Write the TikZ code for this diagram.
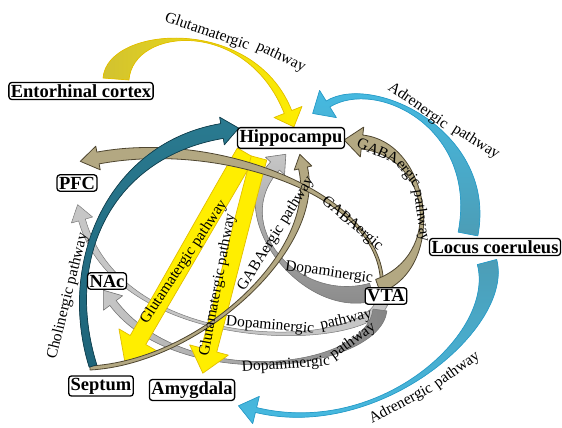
\documentclass[tikz,border=0pt]{standalone}
\usepackage{fontspec}
\setmainfont{Liberation Serif}[BoldFont={Liberation Serif Bold}]
\usetikzlibrary{calc}
\pgfdeclarelayer{bg}
\pgfsetlayers{bg,main}
\definecolor{ylw}{HTML}{FFEE00}
\definecolor{ylwd}{HTML}{E2BE00}
\definecolor{ylwo}{HTML}{D2C230}
\definecolor{cyn}{HTML}{45BDE6}
\definecolor{cyno}{HTML}{4C9DB6}
\definecolor{cynd}{HTML}{2A9CC8}
\definecolor{teal1}{HTML}{1E6479}
\definecolor{teal2}{HTML}{2A7A90}
\definecolor{teald}{HTML}{123F4D}
\definecolor{tan1}{HTML}{B3A882}
\definecolor{tand}{HTML}{4F4630}
\definecolor{gry}{HTML}{A2A2A2}
\definecolor{gryk}{HTML}{858585}
\definecolor{gryl}{HTML}{C6C6C6}
\definecolor{gryd}{HTML}{7A7A7A}
\newcommand\boxfont{\bfseries\fontsize{18.5}{18.5}\selectfont}
\newcommand\lblfont{\fontsize{15.5}{16}\selectfont}
% style, P0, P1, P2, P3 (head base), half width start, half width end, head half width, head length
\newcommand\fatarrow[9]{%
  \filldraw[#1]
    ($(#2)!#6!90:(#3)$) .. controls ($(#3)!#6!-90:(#2)$) and ($(#4)!#7!90:(#5)$) .. ($(#5)!#7!-90:(#4)$)
    -- ($(#5)!#8!-90:(#4)$) -- ($(#5)!-#9!(#4)$) -- ($(#5)!#8!90:(#4)$)
    -- ($(#5)!#7!90:(#4)$) .. controls ($(#4)!#7!-90:(#5)$) and ($(#3)!#6!90:(#2)$) .. ($(#2)!#6!-90:(#3)$) -- cycle;}
\begin{document}
\begin{tikzpicture}[x=1pt,y=-1pt,
  box/.style={draw=black, fill=white, rounded corners=3pt, line width=1.3pt, inner sep=2pt, font=\boxfont},
  lbl/.style={font=\lblfont, inner sep=0pt},
  ylwA/.style={fill=ylw, draw=ylwd, line width=0.7pt, line join=round},
  cynA/.style={fill=cyn, draw=cynd, line width=0.7pt, line join=round},
  tealA/.style={fill=teal1, draw=teald, line width=0.7pt, line join=round},
  tanA/.style={fill=tan1, draw=tand, line width=0.8pt, line join=round},
  gryA/.style={fill=gry, draw=gryd, line width=0.6pt, line join=round},
  grylA/.style={fill=gryl, draw=gryd, line width=0.5pt, line join=round}]
\useasboundingbox (0,0) rectangle (562,428);
% boxes
\node[box] (ec) at (81,91) {Entorhinal cortex};
\node[box] (hip) at (291,138) {Hippocampu};
\node[box] (pfc) at (77,183) {PFC};
\node[box] (nac) at (107,281) {NAc};
\node[box] (sep) at (101,386) {Septum};
\node[box] (amy) at (192,390) {Amygdala};
\node[box] (lc) at (495,247) {Locus coeruleus};
\node[box] (vta) at (386,296) {VTA};
% end points
\coordinate (A0) at ($(ec)+(35,-12)$);  \coordinate (A3) at ($(hip)+(-3,-26)$);
\coordinate (B0) at ($(lc)+(-27,-13)$); \coordinate (B3) at ($(hip)+(37,-34)$);
\coordinate (C0) at ($(lc)+(-8,15)$);   \coordinate (C3) at ($(amy)+(64,20)$);
\coordinate (D0) at ($(sep)+(-8,-20)$); \coordinate (D3) at ($(hip)+(-69,-7)$);
\coordinate (E0) at ($(sep)+(-11,-18)$);\coordinate (E3) at ($(hip)+(12,30)$);
\coordinate (F0) at ($(vta)+(-4,-9)$);  \coordinate (F3) at ($(pfc)+(21,-25)$);
\coordinate (G0) at ($(vta)+(-8,-10)$); \coordinate (G3) at ($(hip)+(71,4)$);
\coordinate (H0) at ($(vta)+(-14,-4)$); \coordinate (H3) at ($(hip)+(-16,28)$);
\coordinate (I0) at ($(vta)+(-4,7)$);   \coordinate (I3) at ($(pfc)+(5,37)$);
\coordinate (J0) at ($(vta)+(-6,14)$);  \coordinate (J3) at ($(nac)+(6,22)$);
\coordinate (K0) at ($(hip)+(-45,15)$); \coordinate (K3) at ($(sep)+(37,-46)$);
\coordinate (L0) at ($(hip)+(-32,20)$); \coordinate (L3) at ($(amy)+(17,-40)$);
\begin{pgfonlayer}{bg}
\fill[white] (0,0) rectangle (562,428);
% dopaminergic
\fatarrow{grylA}{I0}{362,352}{120,355}{I3}{6pt}{3.5pt}{11pt}{16pt}
\fatarrow{gryA, left color=gryl, right color=gryk}{J0}{372,372}{180,392}{J3}{7pt}{4pt}{12pt}{16pt}
\fatarrow{gryA, top color=gryl, bottom color=gryk}{H0}{300,312}{225,220}{H3}{9pt}{6pt}{13pt}{16pt}
% glutamatergic straight
\fatarrow{ylwA}{K0}{210,215}{174,278}{K3}{10pt}{9pt}{22pt}{26pt}
\fatarrow{ylwA}{L0}{242,222}{226,286}{L3}{8pt}{8pt}{20pt}{24pt}
% GABAergic
\fatarrow{tanA}{E0}{200,362}{322,250}{E3}{2pt}{4.5pt}{9pt}{14pt}
\fatarrow{tanA}{F0}{385,195}{220,135}{F3}{1.5pt}{6pt}{12pt}{18pt}
\fatarrow{tanA}{G0}{445,262}{432,150}{G3}{7pt}{7pt}{15pt}{18pt}
% cholinergic
\fatarrow{tealA, top color=teal2, bottom color=teal1}{D0}{60,260}{110,150}{D3}{4pt}{7.5pt}{14pt}{17pt}
% glutamatergic from entorhinal cortex
\fatarrow{ylwA, left color=ylwo, right color=ylw}{A0}{120,26}{250,16}{A3}{13pt}{4pt}{15pt}{16pt}
% adrenergic
\fatarrow{cynA, top color=cyn, bottom color=cyno}{B0}{488,130}{375,75}{B3}{10pt}{3.5pt}{16pt}{18pt}
\fatarrow{cynA, top color=cyno, bottom color=cyn}{C0}{505,330}{380,440}{C3}{10pt}{2.5pt}{14pt}{18pt}
\end{pgfonlayer}
% labels
\node[lbl, rotate=-19] (g1a) at (207,32) {Glutamatergic};
\node[lbl, rotate=-25] (g1b) at (281,57) {pathway};
\node[lbl, rotate=-35] (a1a) at (418,106) {Adrenergic};
\node[lbl, rotate=-32] (a1b) at (476,142) {pathway};
\node[lbl, rotate=28] (a2a) at (401,404) {Adrenergic};
\node[lbl, rotate=36] (a2b) at (457,370) {pathway};
\node[lbl, rotate=-24] (b1a) at (378,151) {GABA};
\node[lbl, rotate=-52] (b1b) at (408,174) {ergic};
\node[lbl, rotate=-82] (b1c) at (421,216) {pathway};
\node[lbl, rotate=-5] (d1a) at (270,326) {Dopaminergic};
\node[lbl, rotate=13] (d1b) at (346,320) {pathway};
\node[lbl, rotate=4] (d2a) at (286,365) {Dopaminergic};
\node[lbl, rotate=36] (d2b) at (353,341) {pathway};
\node[lbl, rotate=-40] (t1) at (352,224) {GABAergic};
\node[lbl, rotate=58] (t2) at (276,234) {GABAergic pathway};
\node[lbl, rotate=-8] (t3) at (329,273) {Dopaminergic};
\node[lbl, rotate=76] (t4) at (68,296) {Cholinergic pathway};
\node[lbl, rotate=56.5] (t5) at (184,262) {Glutamatergic pathway};
\node[lbl, rotate=79.5] (t6) at (218,285) {Glutamatergic pathway};
\end{tikzpicture}
\end{document}
